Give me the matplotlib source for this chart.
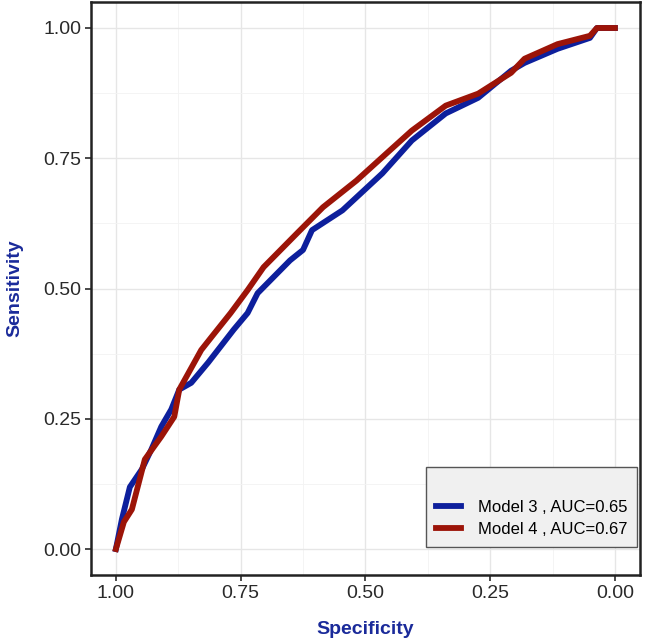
import numpy as np
import matplotlib.pyplot as plt

plt.rcParams['font.family'] = ['Liberation Sans', 'DejaVu Sans']

# ROC points (specificity, sensitivity)
spec_m3 = [1.0, 0.988, 0.972, 0.948, 0.929, 0.909, 0.889, 0.873, 0.849, 0.815,
           0.764, 0.736, 0.716, 0.651, 0.625, 0.607, 0.546, 0.466, 0.407, 0.339,
           0.274, 0.208, 0.181, 0.115, 0.050, 0.036, 0.0]
sens_m3 = [0.0, 0.057, 0.119, 0.153, 0.191, 0.235, 0.268, 0.306, 0.319, 0.358,
           0.421, 0.453, 0.491, 0.554, 0.574, 0.612, 0.650, 0.721, 0.784, 0.836,
           0.866, 0.918, 0.933, 0.960, 0.981, 1.0, 1.0]

spec_m4 = [1.0, 0.984, 0.968, 0.942, 0.909, 0.883, 0.873, 0.829, 0.810, 0.770,
           0.736, 0.704, 0.637, 0.585, 0.518, 0.458, 0.407, 0.339, 0.274, 0.208,
           0.181, 0.115, 0.050, 0.036, 0.0]
sens_m4 = [0.0, 0.052, 0.076, 0.172, 0.216, 0.254, 0.306, 0.382, 0.405, 0.453,
           0.497, 0.541, 0.606, 0.656, 0.707, 0.759, 0.803, 0.851, 0.874, 0.914,
           0.941, 0.969, 0.985, 1.0, 1.0]

labels = ['Model 3 , AUC=0.65', 'Model 4 , AUC=0.67']
colors = ['#0D1F9C', '#9C1408']
ticks = [1.00, 0.75, 0.50, 0.25, 0.00]

fig = plt.figure(figsize=(6.45, 6.44), dpi=100)
ax = fig.add_axes([0.141, 0.107, 0.851, 0.890])

ax.plot(spec_m3, sens_m3, color=colors[0], lw=4.2, label=labels[0], solid_joinstyle='round')
ax.plot(spec_m4, sens_m4, color=colors[1], lw=4.2, label=labels[1], solid_joinstyle='round')

ax.set_xlim(1.05, -0.05)
ax.set_ylim(-0.05, 1.05)
ax.set_xticks(ticks)
ax.set_yticks(ticks)
ax.set_xticklabels([f'{t:.2f}' for t in ticks])
ax.set_yticklabels([f'{t:.2f}' for t in ticks])
ax.set_xticks([0.875, 0.625, 0.375, 0.125], minor=True)
ax.set_yticks([0.875, 0.625, 0.375, 0.125], minor=True)

ax.grid(True, which='major', color='#e6e6e6', lw=1.0)
ax.grid(True, which='minor', color='#f3f3f3', lw=0.6)
ax.set_axisbelow(True)
ax.tick_params(which='major', labelsize=14, colors='#2a2a2a', length=4, width=1.2, pad=3)
ax.tick_params(which='minor', length=0)
for s in ax.spines.values():
    s.set_linewidth(1.8)
    s.set_color('#222222')

ax.set_xlabel('Specificity', fontsize=14, fontweight='bold', color='#1a2a9a', labelpad=14)
ax.set_ylabel('Sensitivity', fontsize=14, fontweight='bold', color='#1a2a9a', labelpad=14)

leg = ax.legend(loc='lower right', bbox_to_anchor=(0.995, 0.049), borderaxespad=0,
                title=' ', fontsize=12, title_fontsize=12, handlelength=1.5,
                handletextpad=1.0, borderpad=0.6, labelspacing=0.45,
                fancybox=False, framealpha=1)
leg.get_frame().set_facecolor('#f0f0f0')
leg.get_frame().set_edgecolor('#555555')
leg.get_frame().set_linewidth(1.0)

fig.savefig('out.png', dpi=100)
